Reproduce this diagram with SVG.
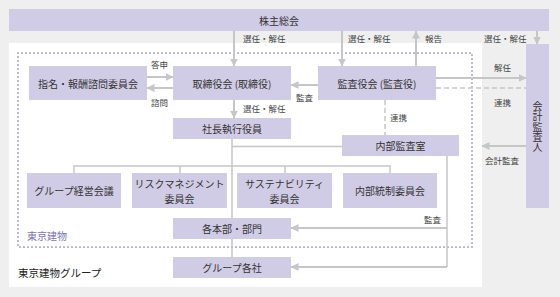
<svg xmlns="http://www.w3.org/2000/svg" width="560" height="297" viewBox="0 0 560 297">
<defs>
<marker id="ah" viewBox="0 0 8 8" markerWidth="8" markerHeight="8" refX="7.5" refY="4" orient="auto" markerUnits="userSpaceOnUse">
<path d="M0,0 L8,4 L0,8 z" fill="#c6c6c6"/>
</marker>
</defs>
<style>
.box{fill:#d1cce6}
.t{font-family:"Noto Sans CJK JP","Noto Sans",sans-serif;font-size:10px;fill:#333;text-anchor:middle;dominant-baseline:central}
.l{font-family:"Noto Sans CJK JP","Noto Sans",sans-serif;font-size:8.5px;fill:#444;dominant-baseline:central}
.v{font-family:"Noto Sans CJK JP","Noto Sans",sans-serif;font-size:10px;fill:#333;text-anchor:middle;writing-mode:vertical-rl;letter-spacing:0.3px}
.c{stroke:#c6c6c6;stroke-width:2;fill:none}
.thin{stroke:#c6c6c6;stroke-width:1.5;fill:none}
.dash{stroke:#c6c6c6;stroke-width:1.5;fill:none;stroke-dasharray:5 3}
.a{marker-end:url(#ah)}
</style>
<rect x="0" y="0" width="560" height="297" fill="#efefef"/>
<rect x="9" y="43" width="473" height="244" fill="#ffffff"/>
<rect x="18" y="53" width="454" height="194" fill="none" stroke="#7d76ab" stroke-width="1.7" stroke-linecap="round" stroke-dasharray="0 4"/>
<text class="l" x="27" y="235" style="font-size:10px;fill:#7d76ab">東京建物</text>
<text class="l" x="18" y="272" style="font-size:10.5px;fill:#222">東京建物グループ</text>

<g id="connectors">
<line class="c a" x1="234" y1="31" x2="234" y2="66"/>
<line class="c a" x1="342" y1="31" x2="342" y2="66"/>
<line class="c a" x1="416" y1="66" x2="416" y2="31"/>
<line class="c a" x1="537" y1="31" x2="537" y2="44"/>
<line class="c a" x1="147" y1="77" x2="173" y2="77"/>
<line class="c a" x1="173" y1="88" x2="147" y2="88"/>
<line class="c a" x1="318" y1="85" x2="291" y2="85"/>
<line class="c a" x1="234" y1="100" x2="234" y2="118"/>
<line class="c a" x1="436" y1="78" x2="526" y2="78"/>
<line class="dash" x1="436" y1="88" x2="526" y2="88"/>
<line class="dash" x1="385" y1="100" x2="385" y2="135"/>
<line class="c a" x1="526" y1="146" x2="482" y2="146"/>
<line class="thin" x1="232" y1="139" x2="232" y2="257"/>
<line class="thin" x1="232" y1="146.5" x2="342" y2="146.5"/>
<path class="thin" d="M74,173 V166 H390 V173 M180,166 V173 M285,166 V173"/>
<path class="thin" d="M447,156 V267"/>
<line class="c a" x1="447" y1="228" x2="291" y2="228"/>
<line class="c a" x1="447" y1="267" x2="291" y2="267"/>
<text class="l" x="243" y="38">選任・解任</text>
<text class="l" x="348" y="38">選任・解任</text>
<text class="l" x="425" y="38">報告</text>
<text class="l" x="484" y="38">選任・解任</text>
<text class="l" x="151" y="64">答申</text>
<text class="l" x="151" y="102">諮問</text>
<text class="l" x="296" y="97">監査</text>
<text class="l" x="243" y="108">選任・解任</text>
<text class="l" x="494" y="67">解任</text>
<text class="l" x="494" y="102">連携</text>
<text class="l" x="390" y="117">連携</text>
<text class="l" x="485" y="160">会計監査</text>
<text class="l" x="424" y="219">監査</text>
</g>

<g id="shareholders"><rect class="box" x="9" y="9" width="540" height="22"/><text class="t" x="279" y="20">株主総会</text></g>
<g id="nomination"><rect class="box" x="29" y="66" width="118" height="34"/><text class="t" x="88" y="83">指名・報酬諮問委員会</text></g>
<g id="board"><rect class="box" x="173" y="66" width="118" height="34"/><text class="t" x="232" y="83">取締役会 (取締役)</text></g>
<g id="auditboard"><rect class="box" x="318" y="66" width="118" height="34"/><text class="t" x="377" y="83">監査役会 (監査役)</text></g>
<g id="president"><rect class="box" x="173" y="118" width="118" height="21"/><text class="t" x="232" y="128.5">社長執行役員</text></g>
<g id="internalaudit"><rect class="box" x="342" y="135" width="117" height="21"/><text class="t" x="400.5" y="145.5">内部監査室</text></g>
<g id="accountant"><rect class="box" x="526" y="44" width="23" height="164"/><text class="v" x="537.5" y="127">会計監査人</text></g>
<g id="groupmgmt"><rect class="box" x="27" y="173" width="94" height="35"/><text class="t" x="74" y="190.5">グループ経営会議</text></g>
<g id="risk"><rect class="box" x="132" y="173" width="95" height="35"/><text class="t" x="179.5" y="183.5">リスクマネジメント</text><text class="t" x="179.5" y="198.5">委員会</text></g>
<g id="sustain"><rect class="box" x="237" y="173" width="95" height="35"/><text class="t" x="284.5" y="183.5">サステナビリティ</text><text class="t" x="284.5" y="198.5">委員会</text></g>
<g id="internalctrl"><rect class="box" x="343" y="173" width="94" height="35"/><text class="t" x="390" y="190.5">内部統制委員会</text></g>
<g id="divisions"><rect class="box" x="173" y="218" width="118" height="21"/><text class="t" x="232" y="228.5">各本部・部門</text></g>
<g id="groupcos"><rect class="box" x="173" y="257" width="118" height="21"/><text class="t" x="232" y="267.5">グループ各社</text></g>
</svg>
